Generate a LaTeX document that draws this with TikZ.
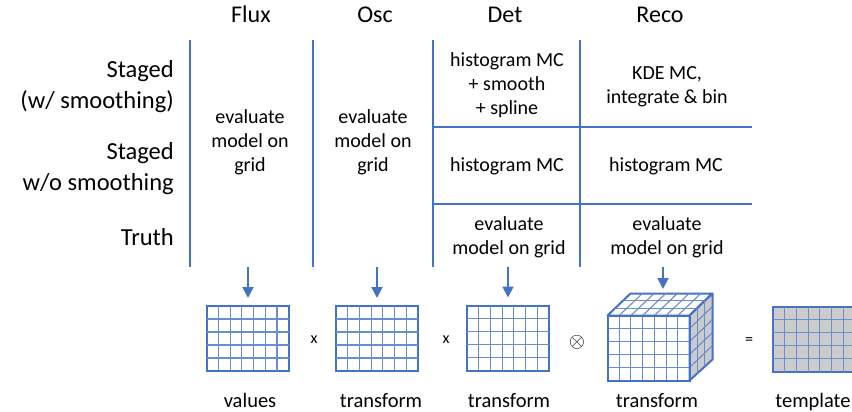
\documentclass[tikz,border=0pt]{standalone}
\usepackage{fontspec}
\setmainfont{Carlito}
\usetikzlibrary{arrows.meta, calc}
\definecolor{gridblue}{HTML}{4472C4}
\definecolor{cellgray}{HTML}{CBCBCB}
\newcommand{\gridlines}[1]{%
  \foreach \i in {1,...,6}
    \draw[inner] ($(#1.north west)!\i/7!(#1.north east)$) -- ($(#1.south west)!\i/7!(#1.south east)$);
  \foreach \j in {1,...,4}
    \draw[inner] ($(#1.north west)!\j/5!(#1.south west)$) -- ($(#1.north east)!\j/5!(#1.south east)$);
}

\begin{document}
\begin{tikzpicture}[
  x=1pt, y=-1pt,
  head/.style  = {anchor=base, font=\fontsize{24}{29}\selectfont},
  rowlab/.style = {anchor=east, align=right, inner sep=0pt,
                   font=\fontsize{24.5}{31}\selectfont},
  cell/.style  = {align=center, inner sep=0pt, font=\fontsize{20}{24}\selectfont},
  lab/.style   = {anchor=base, font=\fontsize{20.5}{24}\selectfont},
  op/.style    = {font=\fontsize{16}{18}\selectfont},
  rule/.style  = {gridblue, line width=1.6pt},
  grid/.style  = {draw=gridblue, line width=2pt, fill=white, outer sep=0pt,
                  inner sep=0pt, minimum width=82pt, minimum height=65pt},
  inner/.style = {gridblue!80!white, line width=1.1pt},
  outer/.style = {draw=gridblue, line width=2pt, line join=round},
  arr/.style   = {-{Triangle[length=11pt, width=11pt]}, gridblue, line width=2pt},
]
  \useasboundingbox (0,0) rectangle (852,412);

  % column and row headings
  \node[head] (hflux) at (251,23) {Flux};
  \node[head] (hosc)  at (375,23) {Osc};
  \node[head] (hdet)  at (505,23) {Det};
  \node[head] (hreco) at (660,23) {Reco};
  \node[rowlab] (rsmooth) at (174,87)  {Staged\\(w/ smoothing)};
  \node[rowlab] (rstaged) at (174,169) {Staged\\w/o smoothing};
  \node[rowlab] (rtruth)  at (174,237) {Truth};

  % table rules
  \foreach \x in {190,313,433,580}
    \draw[rule] (\x,40) -- (\x,267);
  \foreach \y in {127,204}
    \draw[rule] (433,\y) -- (752,\y);

  % cells
  \node[cell] (cflux) at (250,142) {evaluate\\model on\\grid};
  \node[cell] (cosc)  at (373,142) {evaluate\\model on\\grid};
  \node[cell] (cdet1)  at (507,85)  {histogram MC\\+ smooth\\+ spline};
  \node[cell] (creco1) at (667,87)  {KDE MC,\\integrate \& bin};
  \node[cell] (cdet2)  at (507,166) {histogram MC};
  \node[cell] (creco2) at (666,166) {histogram MC};
  \node[cell] (cdet3)  at (509,237) {evaluate\\model on grid};
  \node[cell] (creco3) at (667,237) {evaluate\\model on grid};

  % grids
  \node[grid] (valgrid) at (247.7,338.5) {};
  \gridlines{valgrid}
  \node[grid] (oscgrid) at (377,338.5) {};
  \gridlines{oscgrid}
  \node[grid] (detgrid) at (508,338) {};
  \gridlines{detgrid}
  \node[grid, fill=cellgray] (tplgrid) at (814,339) {};
  \gridlines{tplgrid}

  % cube
  \node[grid] (cubefront) at (648.5,348) {};
  \draw[outer, fill=white] (cubefront.north west) -- ++(23,-22) -- ++(81.6,0)
    -- (cubefront.north east) -- cycle;
  \draw[outer, fill=cellgray] (cubefront.north east) -- ++(23,-22) -- ++(0,66)
    -- (cubefront.south east) -- cycle;
  \gridlines{cubefront}
  \foreach \i in {1,...,6}
    \draw[inner] ($(cubefront.north west)!\i/7!(cubefront.north east)$) -- ++(23,-22);
  \foreach \i in {1,...,4}
    \draw[inner] ($(cubefront.north east)!\i/5!(cubefront.south east)$) -- ++(23,-22);
  \foreach \j in {1,2} {
    \draw[inner] ($(cubefront.north west)+(\j*23/3,-\j*22/3)$) -- ($(cubefront.north east)+(\j*23/3,-\j*22/3)$);
    \draw[inner] ($(cubefront.north east)+(\j*23/3,-\j*22/3)$) -- ($(cubefront.south east)+(\j*23/3,-\j*22/3)$);
  }
  \draw[outer] (cubefront.north west) rectangle (cubefront.south east);

  % arrows
  \coordinate (fluxend) at (248,267);
  \coordinate (oscend)  at (377,267);
  \coordinate (detend)  at (508,267);
  \coordinate (recoend) at (663,267);
  \coordinate (cubein)  at (663,289);
  \draw[arr] (fluxend) -- ([yshift=8pt]fluxend |- valgrid.north);
  \draw[arr] (oscend)  -- ([yshift=8pt]oscend |- oscgrid.north);
  \draw[arr] (detend)  -- ([yshift=8pt]detend |- detgrid.north);
  \draw[arr] (recoend) -- (cubein);

  % operators
  \node[op] (times1) at (314,340) {x};
  \node[op] (times2) at (446,340) {x};
  \node[op] (otimes) at (577,342) {\fontsize{21}{21}\selectfont$\otimes$};
  \node[op] (equals) at (749,341) {=};

  % labels
  \node[lab] (lval)  at (250,407) {values};
  \node[lab] (losc)  at (381,407) {transform};
  \node[lab] (ldet)  at (509,407) {transform};
  \node[lab] (lreco) at (657,407) {transform};
  \node[lab] (ltpl)  at (813,407) {template};
\end{tikzpicture}
\end{document}
